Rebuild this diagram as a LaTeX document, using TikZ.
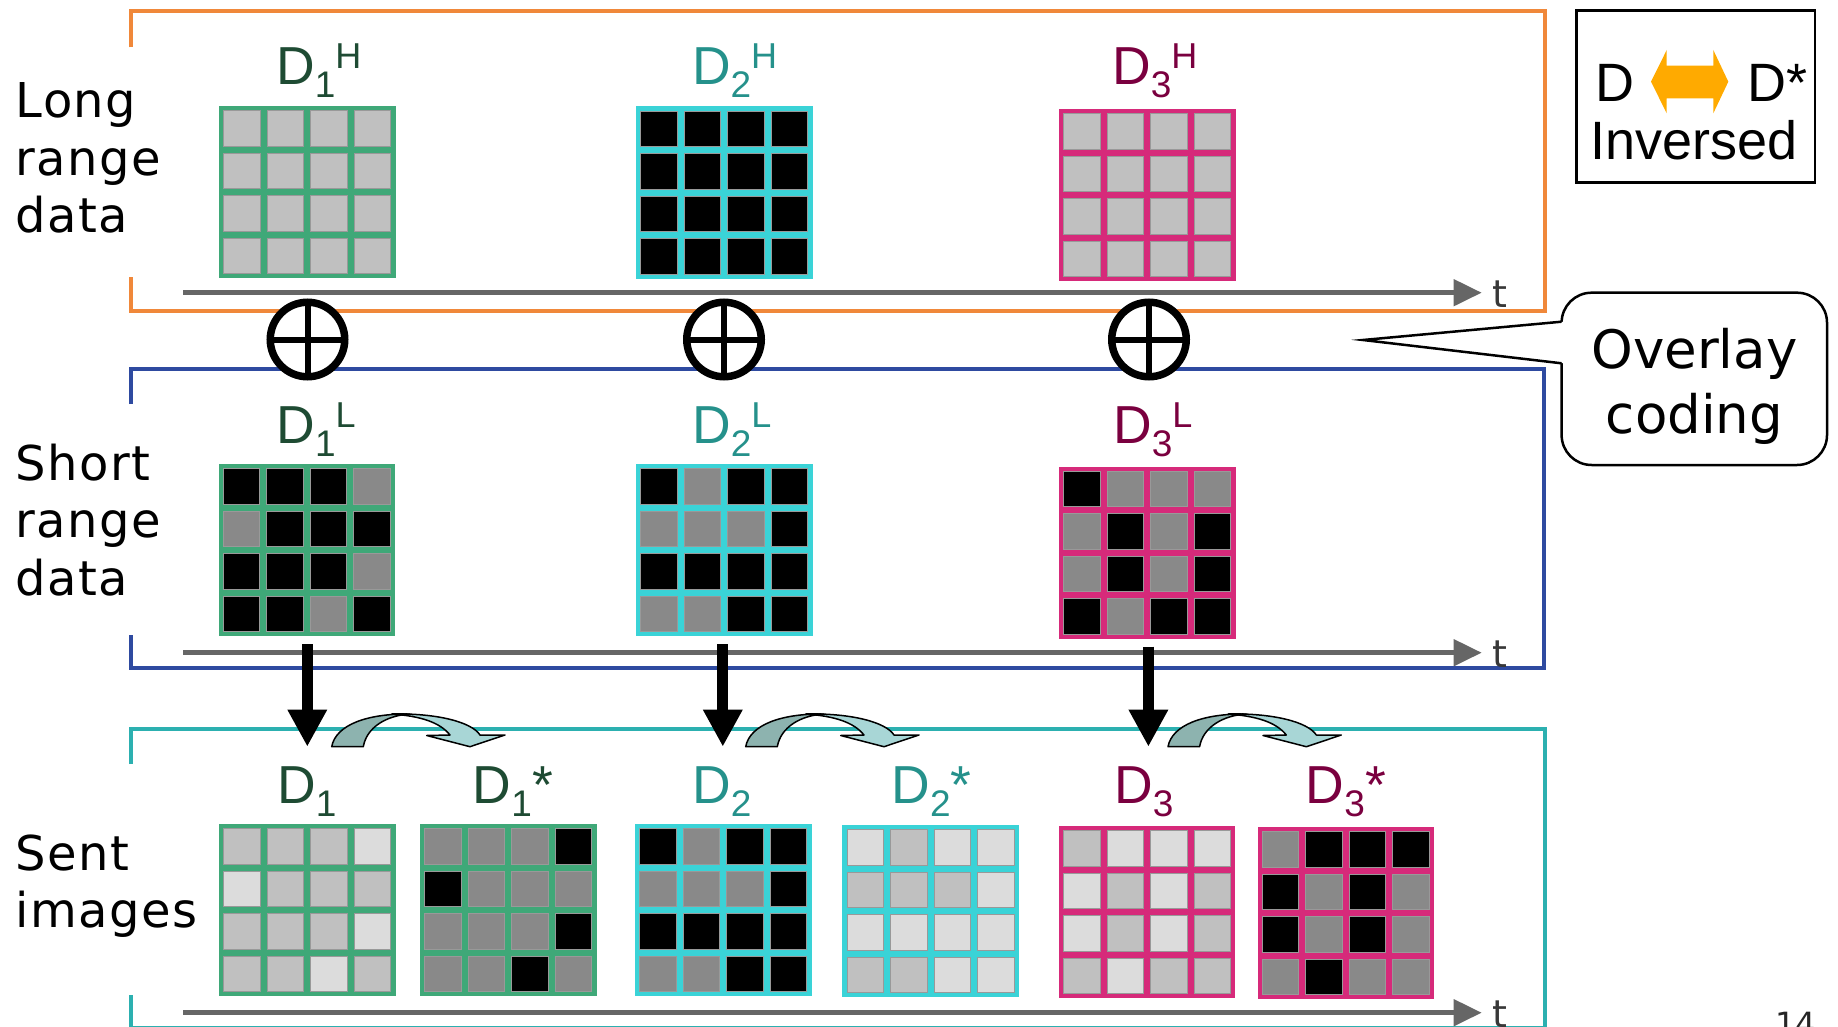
\documentclass[tikz,border=0pt]{standalone}
\usepackage{fontspec}
\setmainfont{Liberation Sans}
\newfontfamily\dvs{DejaVu Sans}
\newfontfamily\dvsw[LetterSpace=3]{DejaVu Sans}
\usetikzlibrary{arrows.meta}
\definecolor{cC}{HTML}{C0C0C0}
\definecolor{cW}{HTML}{DCDCDC}
\definecolor{cG}{HTML}{898989}
\definecolor{cK}{HTML}{000000}
\definecolor{bGreen}{HTML}{3FA878}
\definecolor{bCyan}{HTML}{3AD3D7}
\definecolor{bMag}{HTML}{D62A7A}
\definecolor{tGreen}{HTML}{1E4B33}
\definecolor{tTeal}{HTML}{25918B}
\definecolor{tMaroon}{HTML}{7A003F}
\definecolor{frOrange}{HTML}{F0883A}
\definecolor{frBlue}{HTML}{2E4AA0}
\definecolor{frTeal}{HTML}{2CB0B0}
\definecolor{axisGray}{HTML}{666666}
\definecolor{arrDark}{HTML}{8DB3AF}
\definecolor{arrLight}{HTML}{A8D6D6}
\definecolor{legOrange}{HTML}{FFAA00}

\newcommand{\Dsub}[1]{\raisebox{-13pt}{\fontsize{37pt}{40pt}\selectfont #1}}
\newcommand{\Dsup}[1]{\raisebox{16pt}{\fontsize{36pt}{40pt}\selectfont #1}}

% name, left x, top y, border colour, 16 cell colours (row by row)
\newcommand{\cellgrid}[5]{%
  \node[gridbox, fill=#4] (#1) at ({#2+88.25},{#3+86}) {};
  \foreach \cc [count=\ii from 0] in {#5} {
    \pgfmathtruncatemacro\rr{\ii/4}
    \pgfmathtruncatemacro\kk{mod(\ii,4)}
    \path[fill=\cc, draw=black!40, line width=0.5pt] ({#2+4.5+\kk*43.5},{#3+4.5+\rr*42.5}) rectangle ++(36.5,35.5);
  }
}

% curved (inversion) arrow, #1 = x of the outer left foot
\newcommand{\invarrow}[1]{%
  \begin{scope}[shift={(#1,0)}]
    \path[curvdark] (0,746.7) .. controls (4,725) and (35,713.5) .. (78,714)
      .. controls (55,715.5) and (35,727) .. (31.6,746.7) -- cycle;
    \path[curvlight] (60,714) .. controls (105,713) and (140,722) .. (148.3,735)
      -- (173.3,735) -- (138.3,746.7) -- (95,735.5) -- (118.3,735)
      .. controls (108,722) and (88,716) .. (60,714) -- cycle;
  \end{scope}
}

\begin{document}
\begin{tikzpicture}[x=1pt,y=-1pt,
  gridbox/.style={rectangle, inner sep=0, outer sep=0, minimum width=176.5pt, minimum height=172pt},
  frame/.style={line width=4pt, line join=miter},
  axis/.style={draw=axisGray, line width=4.7pt, -{Triangle[length=28pt,width=26pt]}},
  tlab/.style={font=\dvs\fontsize{38pt}{40pt}\selectfont, text=black!78, inner sep=0, anchor=base west},
  dlab/.style={font=\fontsize{53.5pt}{60pt}\selectfont, inner sep=0, anchor=base west},
  side/.style={font=\dvsw\fontsize{48pt}{57.5pt}\selectfont, inner sep=0, anchor=base west},
  oplus/.style={circle, draw=black, line width=7.5pt, fill=white, minimum size=74.5pt, inner sep=0, outer sep=0},
  downarr/.style={draw=black, line width=11pt, -{Triangle[length=37pt,width=37pt]}},
  curvdark/.style={fill=arrDark, draw=black, line width=1.5pt, line join=round},
  curvlight/.style={fill=arrLight, draw=black, line width=1.5pt, line join=round},
]
\useasboundingbox (0,0) rectangle (1838,1027);

% ---------- frames ----------
\draw[frame, frOrange] (131.3,47.3) -- (131.3,11.5) -- (1545,11.5) -- (1545,310.5) -- (131.3,310.5) -- (131.3,276.7);
\draw[frame, frBlue] (131,404) -- (131,368.5) -- (1544,368.5) -- (1544,667.5) -- (131,667.5) -- (131,635);
\draw[frame, frTeal] (131,764) -- (131,728.5) -- (1544.5,728.5) -- (1544.5,1028) -- (131,1028) -- (131,995);

% ---------- side labels ----------
\node[side] (lblLong) at (15.5,118) {\begin{tabular}[t]{@{}l@{}}Long\\range\\data\end{tabular}};
\node[side] (lblShort) at (15.5,480) {\begin{tabular}[t]{@{}l@{}}Short\\range\\data\end{tabular}};
\node[side] (lblSent) at (15.5,870) {\begin{tabular}[t]{@{}l@{}}Sent\\images\end{tabular}};

% ---------- time axes ----------
\coordinate (ax1s) at (183,292.7);  \coordinate (ax1e) at (1481.7,292.7);
\coordinate (ax2s) at (183,652.7);  \coordinate (ax2e) at (1481.7,652.7);
\coordinate (ax3s) at (183,1012.7); \coordinate (ax3e) at (1481.7,1012.7);
\draw[axis] (ax1s) -- (ax1e);
\draw[axis] (ax2s) -- (ax2e);
\draw[axis] (ax3s) -- (ax3e);
\node[tlab] (t1) at (1492.5,307) {t};
\node[tlab] (t2) at (1492.5,667) {t};
\node[tlab] (t3) at (1492.5,1027) {t};

% ---------- grids ----------
\cellgrid{D1H}{219}{106}{bGreen}{cC,cC,cC,cC,cC,cC,cC,cC,cC,cC,cC,cC,cC,cC,cC,cC}
\cellgrid{D2H}{636}{106.5}{bCyan}{cK,cK,cK,cK,cK,cK,cK,cK,cK,cK,cK,cK,cK,cK,cK,cK}
\cellgrid{D3H}{1059}{109}{bMag}{cC,cC,cC,cC,cC,cC,cC,cC,cC,cC,cC,cC,cC,cC,cC,cC}

\cellgrid{D1L}{218.5}{464}{bGreen}{cK,cK,cK,cG,cG,cK,cK,cK,cK,cK,cK,cG,cK,cK,cG,cK}
\cellgrid{D2L}{636}{464}{bCyan}{cK,cG,cK,cK,cG,cG,cG,cK,cK,cK,cK,cK,cG,cG,cK,cK}
\cellgrid{D3L}{1059}{466.5}{bMag}{cK,cG,cG,cG,cG,cK,cG,cK,cG,cK,cG,cK,cK,cG,cK,cK}

\cellgrid{D1}{219}{824}{bGreen}{cC,cC,cC,cW,cW,cC,cC,cC,cC,cC,cC,cW,cC,cC,cW,cC}
\cellgrid{D1s}{420}{824}{bGreen}{cG,cG,cG,cK,cK,cG,cG,cG,cG,cG,cG,cK,cG,cG,cK,cG}
\cellgrid{D2}{635}{824}{bCyan}{cK,cG,cK,cK,cG,cG,cG,cK,cK,cK,cK,cK,cG,cG,cK,cK}
\cellgrid{D2s}{842.4}{825}{bCyan}{cW,cC,cW,cW,cC,cC,cC,cW,cW,cW,cW,cW,cC,cC,cW,cW}
\cellgrid{D3}{1058.8}{826}{bMag}{cC,cW,cW,cW,cW,cC,cW,cC,cW,cC,cW,cC,cC,cW,cC,cC}
\cellgrid{D3s}{1257.6}{827}{bMag}{cG,cK,cK,cK,cK,cG,cK,cG,cK,cG,cK,cG,cG,cK,cG,cG}

% ---------- grid titles ----------
\node[dlab, text=tGreen]  (ttlD1H) at (276,85)   {D\Dsub{1}\Dsup{H}};
\node[dlab, text=tTeal]   (ttlD2H) at (691.8,85) {D\Dsub{2}\Dsup{H}};
\node[dlab, text=tMaroon] (ttlD3H) at (1112,85)  {D\Dsub{3}\Dsup{H}};
\node[dlab, text=tGreen]  (ttlD1L) at (276.2,443.3) {D\Dsub{1}\Dsup{L}};
\node[dlab, text=tTeal]   (ttlD2L) at (692,443.3)   {D\Dsub{2}\Dsup{L}};
\node[dlab, text=tMaroon] (ttlD3L) at (1113,443.3)  {D\Dsub{3}\Dsup{L}};
\node[dlab, text=tGreen]  (ttlD1)  at (277,803)    {D\Dsub{1}};
\node[dlab, text=tGreen]  (ttlD1s) at (472.6,803)  {D\Dsub{1}*};
\node[dlab, text=tTeal]   (ttlD2)  at (692,803)    {D\Dsub{2}};
\node[dlab, text=tTeal]   (ttlD2s) at (891.3,803)  {D\Dsub{2}*};
\node[dlab, text=tMaroon] (ttlD3)  at (1114,803)   {D\Dsub{3}};
\node[dlab, text=tMaroon] (ttlD3s) at (1305.6,803) {D\Dsub{3}*};

% ---------- overlay (xor) symbols ----------
\node[oplus] (op1) at (307.5,339.5) {};
\node[oplus] (op2) at (724,339.5) {};
\node[oplus] (op3) at (1149,339.5) {};
\foreach \o in {op1,op2,op3}{
  \draw[line width=6pt] (\o.north) -- (\o.south) (\o.west) -- (\o.east);
}

% ---------- down arrows ----------
\coordinate (a1e) at (307.3,746.7);
\coordinate (a2e) at (722.8,746.7);
\coordinate (a3e) at (1148.4,746.7);
\draw[downarr] ([yshift=-8pt]D1L.south -| a1e) -- (a1e);
\draw[downarr] ([yshift=-8pt]D2L.south -| a2e) -- (a2e);
\draw[downarr] ([yshift=-8pt]D3L.south -| a3e) -- (a3e);

% ---------- inversion arrows ----------
\invarrow{331.7}
\invarrow{745.7}
\invarrow{1168}

% ---------- callout ----------
\node[draw=black, line width=2.5pt, rounded corners=30pt, fill=white, inner sep=0,
      minimum width=265.4pt, minimum height=172.3pt] (callout) at (1694.3,378.85) {};
\coordinate (ptip) at (1363,340);
\fill[white] (ptip) -- (1563.5,321.7) -- (1563.5,363.3) -- cycle;
\draw[line width=2.5pt, line join=miter] (1561.6,321.7) -- (ptip) -- (1561.6,363.3);
\node[font=\dvs\fontsize{53pt}{65pt}\selectfont, inner sep=0, anchor=base] (calltxt) at (1694.5,368)
  {\begin{tabular}[t]{@{}c@{}}Overlay\\coding\end{tabular}};

% ---------- legend ----------
\node[draw=black, line width=2.7pt, inner sep=0, minimum width=238.3pt, minimum height=171.6pt] (legend) at (1695.85,96.5) {};
\node[dlab, font=\fontsize{54pt}{60pt}\selectfont] (legD) at (1595.7,101.7) {D};
\node[dlab, font=\fontsize{54pt}{60pt}\selectfont] (legDs) at (1747.4,101.7) {D*};
\node[dlab, font=\fontsize{54pt}{60pt}\selectfont] (legInv) at (1590,160) {Inversed};
\fill[legOrange] (1651,81.7) -- (1666.7,50) -- (1666.7,65.7) -- (1713.3,65.7) -- (1713.3,50)
  -- (1728.3,81.7) -- (1713.3,113.3) -- (1713.3,98.3) -- (1666.7,98.3) -- (1666.7,113.3) -- cycle;

% ---------- page number ----------
\node[font=\dvs\fontsize{32pt}{36pt}\selectfont, text=black!85, inner sep=0, anchor=base west] (pnum) at (1775,1035) {14};
\end{tikzpicture}
\end{document}
